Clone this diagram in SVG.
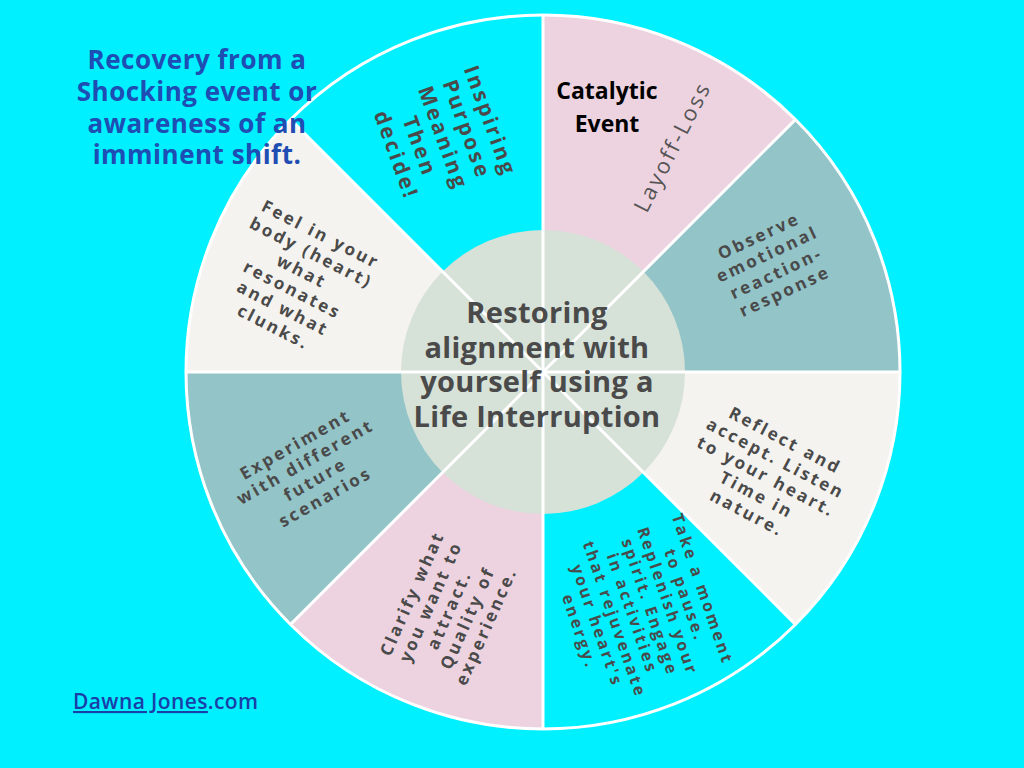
<svg xmlns="http://www.w3.org/2000/svg" width="1024" height="768" viewBox="0 0 1024 768">
<style>
.sec{stroke:none}
.lbl{font-family:"Open Sans","Noto Sans",sans-serif;font-weight:700;fill:#4a4a4a;text-anchor:middle;letter-spacing:2.6px}
.ctr{font-family:"Open Sans","Noto Sans",sans-serif;font-weight:700;fill:#4a4a4a;text-anchor:middle;font-size:29px;letter-spacing:0.3px}
.ttl{font-family:"Open Sans","Noto Sans",sans-serif;font-weight:700;fill:#1e4db3;text-anchor:middle;font-size:26px;letter-spacing:0.5px}
.div{stroke:#ffffff;stroke-width:3;fill:none}
</style>
<rect x="0" y="0" width="1024" height="768" fill="#00f0ff"/>
<g id="sector-catalytic"><path class="sec" d="M543,372 L543,15 A357,357 0 0 1 795.4,119.6 Z" fill="#edd3e0"/></g>
<g id="sector-observe"><path class="sec" d="M543,372 L795.4,119.6 A357,357 0 0 1 900,372 Z" fill="#93c4c8"/></g>
<g id="sector-reflect"><path class="sec" d="M543,372 L900,372 A357,357 0 0 1 795.4,624.4 Z" fill="#f5f3ef"/></g>
<g id="sector-pause"><path class="sec" d="M543,372 L795.4,624.4 A357,357 0 0 1 543,729 Z" fill="#00f0ff"/></g>
<g id="sector-clarify"><path class="sec" d="M543,372 L543,729 A357,357 0 0 1 290.6,624.4 Z" fill="#edd3e0"/></g>
<g id="sector-experiment"><path class="sec" d="M543,372 L290.6,624.4 A357,357 0 0 1 186,372 Z" fill="#93c4c8"/></g>
<g id="sector-feel"><path class="sec" d="M543,372 L186,372 A357,357 0 0 1 290.6,119.6 Z" fill="#f5f3ef"/></g>
<g id="sector-inspiring"><path class="sec" d="M543,372 L290.6,119.6 A357,357 0 0 1 543,15 Z" fill="#00f0ff"/></g>
<g id="hub"><circle cx="543" cy="372" r="142" fill="#d6e1d8"/></g>
<g id="connectors">
<circle class="div" cx="543" cy="372" r="357"/>
<line class="div" x1="543" y1="15" x2="543" y2="729"/>
<line class="div" x1="186" y1="372" x2="900" y2="372"/>
<line class="div" x1="290.6" y1="119.6" x2="795.4" y2="624.4"/>
<line class="div" x1="795.4" y1="119.6" x2="290.6" y2="624.4"/>
</g>
<g id="label-center">
<text class="ctr" x="537" y="323">Restoring</text>
<text class="ctr" x="537" y="358">alignment with</text>
<text class="ctr" x="537" y="392">yourself using a</text>
<text class="ctr" x="537" y="427">Life Interruption</text>
</g>
<g id="label-catalytic">
<text x="607" y="99" font-family="Open Sans, Noto Sans, sans-serif" font-weight="700" font-size="23" fill="#000" text-anchor="middle">Catalytic</text>
<text x="607" y="132" font-family="Open Sans, Noto Sans, sans-serif" font-weight="700" font-size="23" fill="#000" text-anchor="middle">Event</text>
<text transform="translate(673,147) rotate(-63)" y="7" font-family="Open Sans, Noto Sans, sans-serif" font-size="22" fill="#555" text-anchor="middle" letter-spacing="2.5">Layoff-Loss</text>
</g>
<g id="label-observe" transform="translate(772,264) rotate(-25)">
<text class="lbl" font-size="17" y="-25">Observe</text>
<text class="lbl" font-size="17" y="-5">emotional</text>
<text class="lbl" font-size="17" y="16">reaction-</text>
<text class="lbl" font-size="17" y="36">response</text>
</g>
<g id="label-reflect" transform="translate(766,477) rotate(27.7)">
<text class="lbl" font-size="17" y="-35.5">Reflect and</text>
<text class="lbl" font-size="17" y="-15">accept. Listen</text>
<text class="lbl" font-size="17" y="5.5">to your heart.</text>
<text class="lbl" font-size="17" y="26">Time in</text>
<text class="lbl" font-size="17" y="46.5">nature.</text>
</g>
<g id="label-pause" transform="translate(640.5,610.5) rotate(71)">
<text class="lbl" font-size="16" y="-60">Take a moment</text>
<text class="lbl" font-size="16" y="-41.5">to pause.</text>
<text class="lbl" font-size="16" y="-23">Replenish your</text>
<text class="lbl" font-size="16" y="-4.3">spirit. Engage</text>
<text class="lbl" font-size="16" y="14.3">in activities</text>
<text class="lbl" font-size="16" y="33">that rejuvenate</text>
<text class="lbl" font-size="16" y="51.5">your heart's</text>
<text class="lbl" font-size="16" y="70">energy.</text>
</g>
<g id="label-clarify" transform="translate(449.5,610) rotate(-66)">
<text class="lbl" font-size="17" y="-35">Clarify what</text>
<text class="lbl" font-size="17" y="-14.7">you want to</text>
<text class="lbl" font-size="17" y="5.5">attract.</text>
<text class="lbl" font-size="17" y="25.7">Quality of</text>
<text class="lbl" font-size="17" y="46">experience.</text>
</g>
<g id="label-experiment" transform="translate(310.5,471) rotate(-29.6)">
<text class="lbl" font-size="17" y="-24.8">Experiment</text>
<text class="lbl" font-size="17" y="-4.6">with different</text>
<text class="lbl" font-size="17" y="15.6">future</text>
<text class="lbl" font-size="17" y="35.8">scenarios</text>
</g>
<g id="label-feel" transform="translate(297,281) rotate(27)">
<text class="lbl" font-size="17" y="-46.5">Feel in your</text>
<text class="lbl" font-size="17" y="-25.7">body (heart)</text>
<text class="lbl" font-size="17" y="-4.9">what</text>
<text class="lbl" font-size="17" y="15.9">resonates</text>
<text class="lbl" font-size="17" y="36.7">and what</text>
<text class="lbl" font-size="17" y="57.5">clunks.</text>
</g>
<g id="label-inspiring" transform="translate(443,138) rotate(70)">
<text class="lbl" font-size="21" y="-43">Inspiring</text>
<text class="lbl" font-size="21" y="-18">Purpose</text>
<text class="lbl" font-size="21" y="7">Meaning</text>
<text class="lbl" font-size="21" y="32">Then</text>
<text class="lbl" font-size="21" y="57">decide!</text>
</g>
<g id="title">
<text class="ttl" x="197" y="69">Recovery from a</text>
<text class="ttl" x="197" y="101">Shocking event or</text>
<text class="ttl" x="197" y="133">awareness of an</text>
<text class="ttl" x="197" y="164">imminent shift.</text>
</g>
<g id="footer">
<text x="73" y="709" font-family="Open Sans, Noto Sans, sans-serif" font-weight="600" font-size="21" letter-spacing="0.4" fill="#1a3fa8"><tspan text-decoration="underline">Dawna Jones</tspan>.com</text>
</g>
</svg>
